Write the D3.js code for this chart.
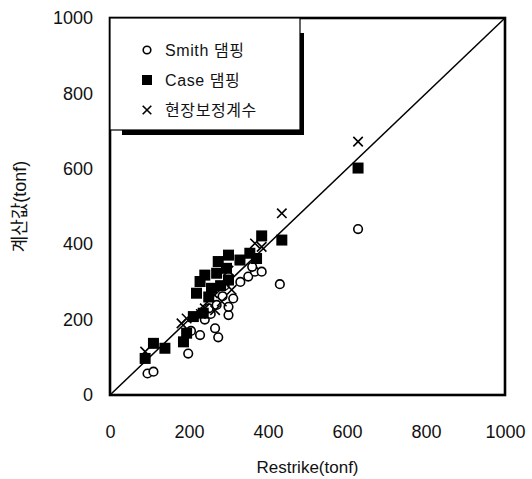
<!DOCTYPE html>
<html>
<head>
<meta charset="utf-8">
<script src="https://cdn.jsdelivr.net/npm/d3@7"></script>
<style>
  body { margin: 0; background: #fff; }
  svg text { font-family: "Liberation Sans", Arial, "Noto Sans CJK KR", sans-serif; fill: #111; }
</style>
</head>
<body>
<div id="wrapper"></div>
<script>
// data: [Restrike, 계산값] in tonf
const smithDamping = [
  [95, 57], [110, 62], [198, 110], [205, 170], [228, 159], [266, 177], [274, 153],
  [240, 200], [255, 215], [250, 230], [270, 239], [300, 212], [300, 234], [312, 256],
  [285, 262], [290, 290], [330, 300], [350, 314], [367, 327], [384, 327], [360, 340],
  [430, 294], [628, 440]
]
const caseDamping = [
  [89, 97], [110, 137], [139, 124], [186, 141], [194, 164], [211, 208], [236, 217],
  [250, 260], [219, 270], [228, 301], [240, 318], [257, 283], [280, 290], [270, 323],
  [295, 336], [300, 305], [274, 354], [300, 371], [329, 358], [354, 376], [371, 362],
  [384, 422], [435, 411], [628, 602]
]
const fieldFactor = [
  [89, 115], [181, 190], [194, 203], [230, 215], [240, 230], [266, 225], [283, 248],
  [260, 270], [308, 279], [300, 330], [367, 402], [384, 393], [435, 482], [628, 672]
]
const tickValues = [0, 200, 400, 600, 800, 1000]
const legendLabels = ["Smith 댐핑", "Case 댐핑", "현장보정계수"]

const width = 532
const height = 479
const margin = { top: 18, right: 27, bottom: 84, left: 110 }
const boundedWidth = width - margin.left - margin.right
const boundedHeight = height - margin.top - margin.bottom

const svg = d3.select("#wrapper").append("svg")
  .attr("width", width)
  .attr("height", height)

const bounds = svg.append("g")
  .attr("transform", `translate(${margin.left},${margin.top})`)

const xScale = d3.scaleLinear().domain([0, 1000]).range([0, boundedWidth])
const yScale = d3.scaleLinear().domain([0, 1000]).range([boundedHeight, 0])

// 1:1 line
bounds.append("line")
  .attr("x1", xScale(0)).attr("y1", yScale(0))
  .attr("x2", xScale(1000)).attr("y2", yScale(1000))
  .attr("stroke", "#000").attr("stroke-width", 1.5)

// marks
const marks = bounds.append("g")

marks.selectAll(".smith")
  .data(smithDamping)
  .join("circle")
    .attr("class", "smith")
    .attr("cx", d => xScale(d[0]))
    .attr("cy", d => yScale(d[1]))
    .attr("r", 4.3)
    .attr("fill", "#fff")
    .attr("stroke", "#000")
    .attr("stroke-width", 1.6)

marks.selectAll(".case")
  .data(caseDamping)
  .join("rect")
    .attr("class", "case")
    .attr("x", d => xScale(d[0]) - 5.5)
    .attr("y", d => yScale(d[1]) - 5.5)
    .attr("width", 11)
    .attr("height", 11)
    .attr("fill", "#000")

const cross = d3.symbol().type(d3.symbolX).size(60)
marks.selectAll(".field")
  .data(fieldFactor)
  .join("path")
    .attr("class", "field")
    .attr("transform", d => `translate(${xScale(d[0])},${yScale(d[1])})`)
    .attr("d", cross)
    .attr("fill", "none")
    .attr("stroke", "#000")
    .attr("stroke-width", 1.6)

// frame
bounds.append("rect")
  .attr("width", boundedWidth)
  .attr("height", boundedHeight)
  .attr("fill", "none")
  .attr("stroke", "#000")
  .attr("stroke-width", 2.6)

// axes
const xAxis = bounds.append("g")
  .attr("transform", `translate(0,${boundedHeight})`)
  .call(d3.axisBottom(xScale).tickValues(tickValues).tickFormat(d3.format("d")).tickSize(0).tickPadding(30))
xAxis.select(".domain").remove()
xAxis.selectAll("text").style("font-size", "18px").attr("fill", "#111")

const yAxis = bounds.append("g")
  .call(d3.axisLeft(yScale).tickValues(tickValues).tickFormat(d3.format("d")).tickSize(0).tickPadding(17))
yAxis.select(".domain").remove()
yAxis.selectAll("text").style("font-size", "18px").attr("fill", "#111")

bounds.append("text")
  .attr("x", boundedWidth / 2)
  .attr("y", boundedHeight + 78)
  .attr("text-anchor", "middle")
  .style("font-size", "17px")
  .text("Restrike(tonf)")

bounds.append("text")
  .attr("transform", `translate(${-margin.left + 26},${boundedHeight / 2}) rotate(-90)`)
  .attr("text-anchor", "middle")
  .style("font-size", "18px")
  .text("계산값(tonf)")

// legend
const legend = bounds.append("g")
legend.append("rect")
  .attr("x", 12).attr("y", 15)
  .attr("width", 182).attr("height", 102)
  .attr("fill", "#000")
legend.append("rect")
  .attr("x", 0).attr("y", 0)
  .attr("width", 190).attr("height", 112)
  .attr("fill", "#fff")
  .attr("stroke", "#000")
  .attr("stroke-width", 1.2)

const legendItems = legend.selectAll(".item")
  .data(legendLabels)
  .join("g")
    .attr("class", "item")
    .attr("transform", (d, i) => `translate(37,${32 + i * 30})`)

legendItems.filter((d, i) => i === 0).append("circle")
  .attr("r", 3.8).attr("fill", "#fff").attr("stroke", "#000").attr("stroke-width", 1.6)
legendItems.filter((d, i) => i === 1).append("rect")
  .attr("x", -5).attr("y", -5).attr("width", 10).attr("height", 10).attr("fill", "#000")
legendItems.filter((d, i) => i === 2).append("path")
  .attr("d", d3.symbol().type(d3.symbolX).size(50))
  .attr("fill", "none").attr("stroke", "#000").attr("stroke-width", 1.6)

legendItems.append("text")
  .attr("x", 18)
  .attr("dy", "0.35em")
  .style("font-size", "16px")
  .style("letter-spacing", "0.6px")
  .text(d => d)
</script>
</body>
</html>
